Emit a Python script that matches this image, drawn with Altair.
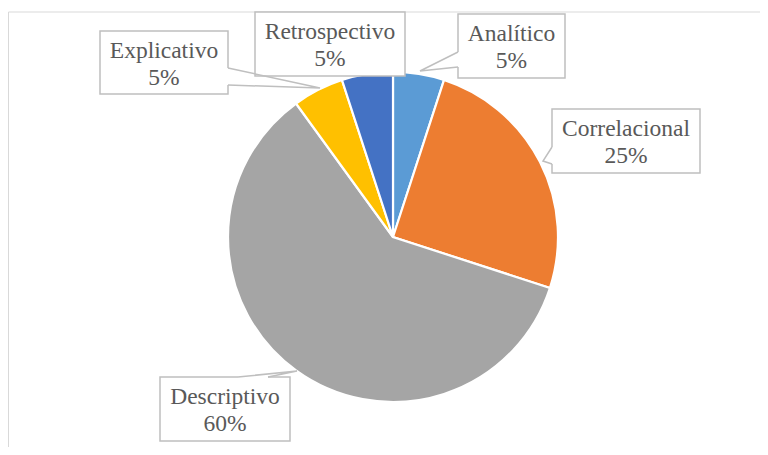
import altair as alt
import pandas as pd

# ---- data ----
categories = ["Analítico", "Correlacional", "Descriptivo", "Explicativo", "Retrospectivo"]
values = [5, 25, 60, 5, 5]
pct_labels = ["5%", "25%", "60%", "5%", "5%"]
colors = ["#5B9BD5", "#ED7D31", "#A5A5A5", "#FFC000", "#4472C4"]

# ---- layout (page pixel coordinates) ----
X0, Y0 = 8, 8          # page margin
X1, Y1 = 760, 447      # right / bottom edge of drawable area
PIE_CX, PIE_CY, PIE_R = 393, 237, 165
# label boxes: x1, y1, x2, y2
boxes = {
    "Analítico": (458, 14, 565, 78),
    "Correlacional": (552, 109, 700, 173),
    "Descriptivo": (160, 377, 290, 441),
    "Explicativo": (100, 31, 228, 94),
    "Retrospectivo": (255, 12, 405, 76),
}
# callout pointers: edge point A, tip, edge point B
pointers = {
    "Analítico": [(458, 52), (420, 71), (458, 67)],
    "Correlacional": [(552, 147), (543, 161), (552, 164)],
    "Descriptivo": [(238, 377), (297, 371), (268, 377)],
    "Explicativo": [(228, 68), (320, 88), (228, 85)],
}

pie_df = pd.DataFrame({
    "cat": categories, "value": values, "idx": list(range(len(categories))),
})

box_rows, text_rows = [], []
for c, p in zip(categories, pct_labels):
    x1, y1, x2, y2 = boxes[c]
    box_rows.append({"cat": c, "x1": x1, "y1": y1, "x2": x2, "y2": y2})
    text_rows.append({"t": c, "x": (x1 + x2) / 2, "y": y1 + 27})
    text_rows.append({"t": p, "x": (x1 + x2) / 2, "y": y1 + 54})
box_df = pd.DataFrame(box_rows)
text_df = pd.DataFrame(text_rows)

ptr_rows, gap_rows = [], []
for c, pts in pointers.items():
    for i, (px, py) in enumerate(pts):
        ptr_rows.append({"cat": c, "i": i, "x": px, "y": py})
    gap_rows.append({"x1": pts[0][0], "y1": pts[0][1], "x2": pts[2][0], "y2": pts[2][1]})
ptr_df = pd.DataFrame(ptr_rows)
gap_df = pd.DataFrame(gap_rows)

frame_df = pd.DataFrame([
    {"x1": X0 + 0.5, "y1": 12, "x2": X1, "y2": 12},
    {"x1": X0 + 0.5, "y1": 12, "x2": X0 + 0.5, "y2": Y1},
])

xs = alt.Scale(domain=[X0, X1], nice=False, zero=False)
ys = alt.Scale(domain=[Y0, Y1], nice=False, zero=False, reverse=True)

def X(f):
    return alt.X(f, type="quantitative", scale=xs, axis=None)

def Y(f):
    return alt.Y(f, type="quantitative", scale=ys, axis=None)

FONT = "Liberation Serif"

frame = alt.Chart(frame_df).mark_rule(color="#D9D9D9", strokeWidth=1).encode(
    x=X("x1"), y=Y("y1"), x2="x2", y2="y2")

pie = alt.Chart(pie_df).mark_arc(outerRadius=PIE_R, stroke="white", strokeWidth=2.2).encode(
    theta=alt.Theta("value:Q", stack=True),
    color=alt.Color("cat:N", scale=alt.Scale(domain=categories, range=colors), legend=None),
    order=alt.Order("idx:Q"),
    x=alt.value(PIE_CX - X0),
    y=alt.value(PIE_CY - Y0),
)

box = alt.Chart(box_df).mark_rect(fill="white", stroke="#BFBFBF", strokeWidth=1.5).encode(
    x=X("x1"), y=Y("y1"), x2="x2", y2="y2")

gap = alt.Chart(gap_df).mark_rule(color="white", strokeWidth=2.5).encode(
    x=X("x1"), y=Y("y1"), x2="x2", y2="y2")

ptr = alt.Chart(ptr_df).mark_line(color="#BFBFBF", strokeWidth=1.5, strokeJoin="miter").encode(
    x=X("x"), y=Y("y"), detail="cat:N", order="i:Q")

text = alt.Chart(text_df).mark_text(
    font=FONT, fontSize=23.5, color="#595959", align="center", baseline="alphabetic"
).encode(x=X("x"), y=Y("y"), text="t:N")

chart = alt.layer(frame, pie, box, gap, ptr, text).properties(
    width=X1 - X0, height=Y1 - Y0, autosize=alt.AutoSizeParams(type="none"), padding=0
).configure_view(stroke=None)

chart.save("out.html", embed_options={"renderer": "svg", "actions": False})
